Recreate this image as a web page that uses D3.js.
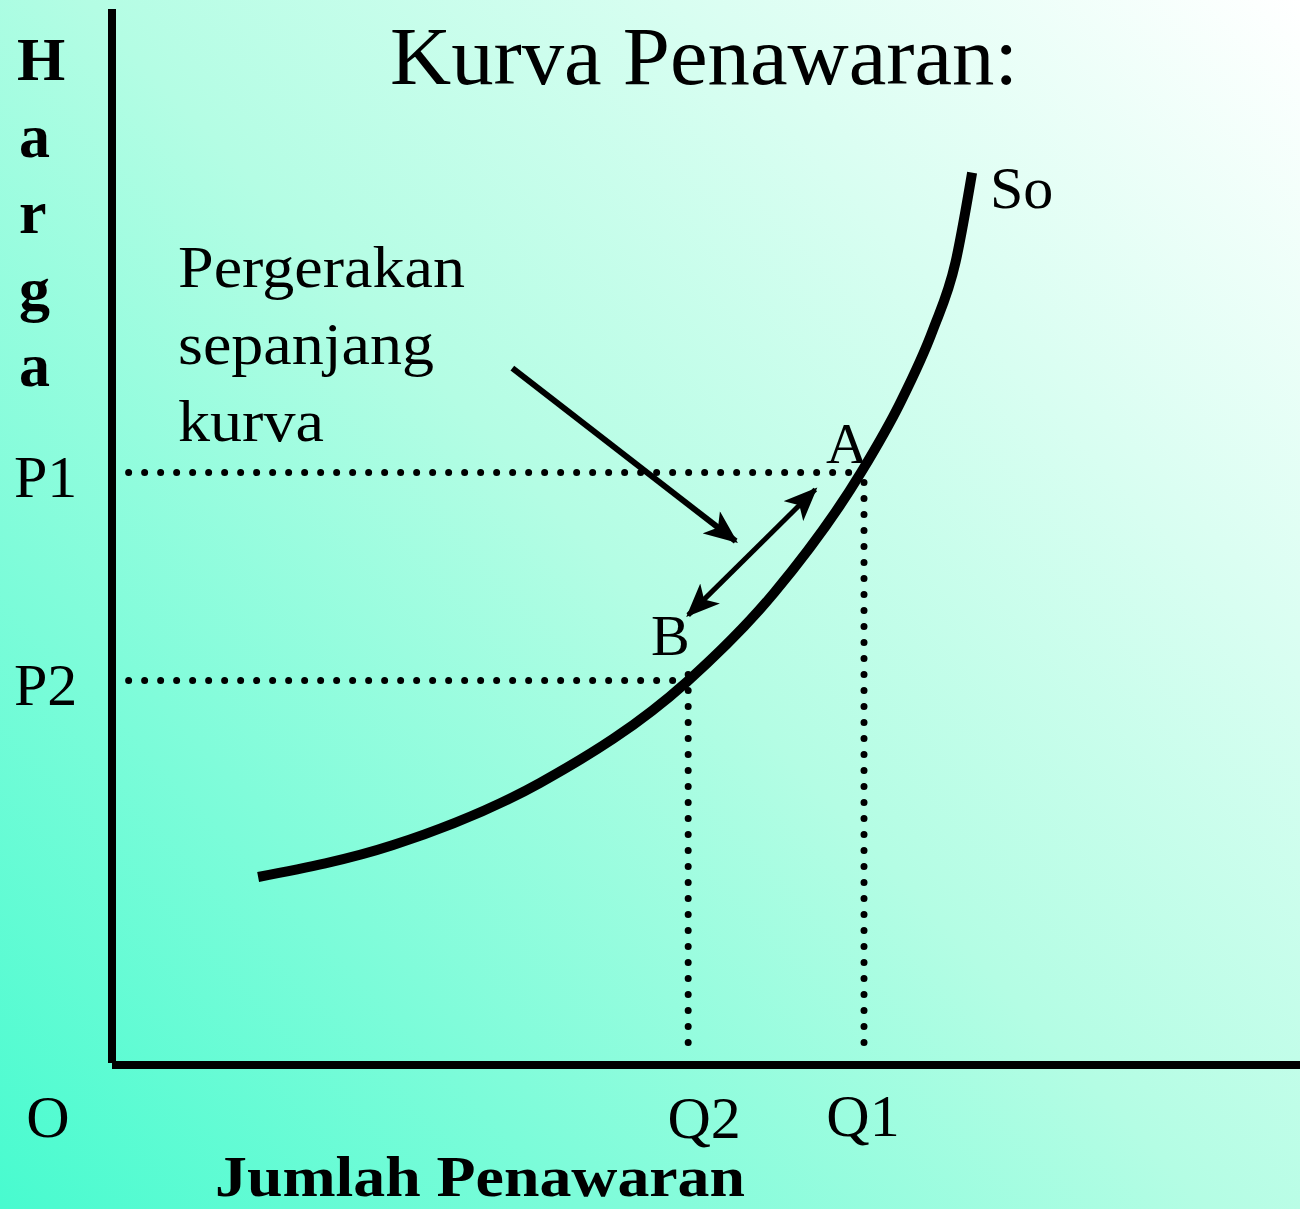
<!DOCTYPE html>
<html>
<head>
<meta charset="utf-8">
<script src="https://cdn.jsdelivr.net/npm/d3@7"></script>
<style>
  html, body { margin: 0; padding: 0; }
  svg { display: block; }
  text { font-family: "Liberation Serif", "Times New Roman", serif; fill: #000; }
</style>
</head>
<body>
<div id="chart"></div>
<script>

let width = 1300;
let height = 1209;

// supply curve So, in quantity / price units (0..100 on each axis)
const curveQ = [12.3, 23.6, 36.0, 48.4, 55.8, 63.1, 66.3, 69.1, 71.0, 72.4];
const curveP = [17.8, 20.8, 26.7, 36.3, 44.8, 56.2, 62.6, 69.6, 76.0, 84.5];

// the two marked points on the curve
const pointNames = ["A", "B"];
const pointQ = [63.3, 48.5];     // Q1, Q2
const pointP = [56.1, 36.4];     // P1, P2
const priceLabels = ["P1", "P2"];
const qtyLabels = ["Q1", "Q2"];

const yLetters = ["H", "a", "r", "g", "a"];
const noteLines = ["Pergerakan", "sepanjang", "kurva"];
const noteWidths = [287, 256, 146];

let svg = d3.select("#chart")
            .append("svg")
            .attr("width", width)
            .attr("height", height);

let xScale = d3.scaleLinear().domain([0, 100]).range([112, 1300]);
let yScale = d3.scaleLinear().domain([0, 100]).range([1065, 9]);

function drawBackground() {
  let defs = svg.append("defs");
  let grad = defs.append("linearGradient")
                 .attr("id", "bg")
                 .attr("gradientUnits", "userSpaceOnUse")
                 .attr("x1", 0).attr("y1", height)
                 .attr("x2", width).attr("y2", 0);
  grad.append("stop").attr("offset", "0%").attr("stop-color", "#48fbcf");
  grad.append("stop").attr("offset", "50%").attr("stop-color", "#b4fde4");
  grad.append("stop").attr("offset", "100%").attr("stop-color", "#ffffff");

  svg.append("rect")
     .attr("width", width)
     .attr("height", height)
     .attr("fill", "url(#bg)");

  let marker = defs.append("marker")
     .attr("id", "head")
     .attr("viewBox", "0 0 12 10")
     .attr("refX", 11).attr("refY", 5)
     .attr("markerWidth", 34).attr("markerHeight", 28)
     .attr("markerUnits", "userSpaceOnUse")
     .attr("orient", "auto-start-reverse");
  marker.append("path").attr("d", "M0,0 L12,5 L0,10 L3,5 Z").attr("fill", "#000");
}

function drawAxes() {
  svg.append("line")
     .attr("x1", xScale(0)).attr("y1", yScale(100))
     .attr("x2", xScale(0)).attr("y2", yScale(0) - 2)
     .attr("stroke", "#000").attr("stroke-width", 8);

  svg.append("line")
     .attr("x1", xScale(0)).attr("y1", yScale(0))
     .attr("x2", xScale(100)).attr("y2", yScale(0))
     .attr("stroke", "#000").attr("stroke-width", 8);
}

function drawGuides() {
  let pts = pointNames.map((n, i) => ({ q: pointQ[i], p: pointP[i] }));

  // horizontal dotted lines to price axis
  svg.selectAll(".hguide")
     .data(pts)
     .enter()
     .append("line")
     .attr("class", "hguide")
     .attr("x1", xScale(1.4))
     .attr("x2", d => xScale(d.q))
     .attr("y1", d => yScale(d.p))
     .attr("y2", d => yScale(d.p))
     .attr("stroke", "#000")
     .attr("stroke-width", 7)
     .attr("stroke-linecap", "round")
     .attr("stroke-dasharray", "0 16");

  // vertical dotted lines to quantity axis
  svg.selectAll(".vguide")
     .data(pts)
     .enter()
     .append("line")
     .attr("class", "vguide")
     .attr("x1", d => xScale(d.q))
     .attr("x2", d => xScale(d.q))
     .attr("y1", d => yScale(d.p) - 6)
     .attr("y2", yScale(1))
     .attr("stroke", "#000")
     .attr("stroke-width", 7)
     .attr("stroke-linecap", "round")
     .attr("stroke-dasharray", "0 16");
}

function drawCurve() {
  let line = d3.line()
               .x(d => xScale(d[0]))
               .y(d => yScale(d[1]))
               .curve(d3.curveMonotoneX);

  svg.append("path")
     .datum(curveQ.map((q, i) => [q, curveP[i]]))
     .attr("d", line)
     .attr("fill", "none")
     .attr("stroke", "#000")
     .attr("stroke-width", 10);
}

function drawArrows() {
  // pointer from the note to the movement arrow
  svg.append("line")
     .attr("x1", xScale(33.7)).attr("y1", yScale(66.0))
     .attr("x2", xScale(52.5)).attr("y2", yScale(49.6))
     .attr("stroke", "#000").attr("stroke-width", 6)
     .attr("marker-end", "url(#head)");

  // double arrow between B and A
  svg.append("line")
     .attr("x1", xScale(48.5)).attr("y1", yScale(42.6))
     .attr("x2", xScale(59.2)).attr("y2", yScale(54.5))
     .attr("stroke", "#000").attr("stroke-width", 5)
     .attr("marker-start", "url(#head)")
     .attr("marker-end", "url(#head)");
}

function drawText() {
  svg.append("text")
     .attr("x", 390).attr("y", 84)
     .attr("font-size", 82)
     .attr("textLength", 628)
     .attr("lengthAdjust", "spacingAndGlyphs")
     .text("Kurva Penawaran:");

  svg.selectAll(".yletter")
     .data(yLetters)
     .enter()
     .append("text")
     .attr("class", "yletter")
     .attr("x", (d, i) => i === 0 ? 17 : 19)
     .attr("y", (d, i) => 80 + i * 76.5)
     .attr("font-size", 62)
     .attr("font-weight", "bold")
     .text(d => d);

  svg.selectAll(".note")
     .data(noteLines)
     .enter()
     .append("text")
     .attr("class", "note")
     .attr("x", 178)
     .attr("y", (d, i) => 287 + i * 77)
     .attr("font-size", 60)
     .attr("textLength", (d, i) => noteWidths[i])
     .attr("lengthAdjust", "spacingAndGlyphs")
     .text(d => d);

  // price labels
  svg.selectAll(".plabel")
     .data(priceLabels)
     .enter()
     .append("text")
     .attr("class", "plabel")
     .attr("x", 14)
     .attr("y", (d, i) => yScale(pointP[i]) + 24)
     .attr("font-size", 60)
     .text(d => d);

  // quantity labels
  svg.selectAll(".qlabel")
     .data(qtyLabels)
     .enter()
     .append("text")
     .attr("class", "qlabel")
     .attr("x", (d, i) => xScale(pointQ[i]) + (i === 0 ? -1 : 16))
     .attr("y", (d, i) => i === 0 ? 1136 : 1138)
     .attr("text-anchor", "middle")
     .attr("font-size", 60)
     .text(d => d);

  svg.append("text")
     .attr("x", 48).attr("y", 1137)
     .attr("text-anchor", "middle")
     .attr("font-size", 60)
     .text("O");

  // point labels
  svg.append("text")
     .attr("x", 826).attr("y", 463)
     .attr("font-size", 58)
     .text(pointNames[0]);
  svg.append("text")
     .attr("x", 651).attr("y", 655)
     .attr("font-size", 58)
     .text(pointNames[1]);

  svg.append("text")
     .attr("x", 990).attr("y", 208)
     .attr("font-size", 60)
     .text("So");

  svg.append("text")
     .attr("x", 215).attr("y", 1196)
     .attr("font-size", 58)
     .attr("font-weight", "bold")
     .attr("textLength", 530)
     .attr("lengthAdjust", "spacingAndGlyphs")
     .text("Jumlah Penawaran");
}

drawBackground();
drawAxes();
drawGuides();
drawCurve();
drawArrows();
drawText();
</script>
</body>
</html>
